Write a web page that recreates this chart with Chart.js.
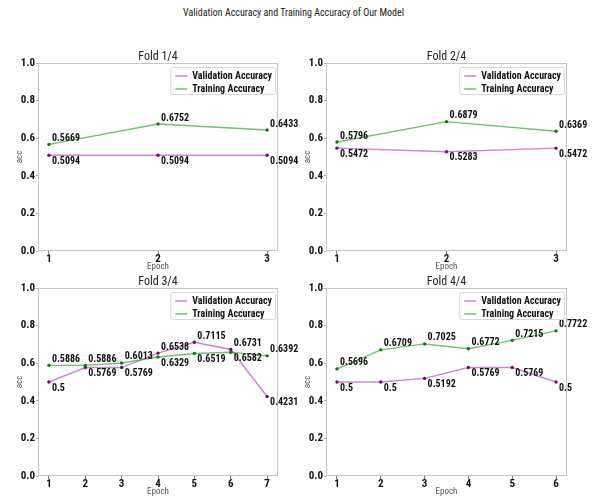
<!DOCTYPE html>
<html>
<head>
<meta charset="utf-8">
<script src="https://cdn.jsdelivr.net/npm/chart.js@4/dist/chart.umd.min.js"></script>
<style>
  body { margin: 0; background: #fff; }
  #page { position: relative; width: 592px; height: 497px; overflow: hidden; }
  #suptitle {
    position: absolute; left: 0; top: 7px; width: 587px; text-align: center;
    font: 10px "Roboto Condensed", "Liberation Sans Narrow", sans-serif; color: #222;
  }
  .cell { position: absolute; }
</style>
</head>
<body>
<div id="page">
  <div id="suptitle">Validation Accuracy and Training Accuracy of Our Model</div>
  <div class="cell" style="left:0;top:40px;width:312px;height:232px"><canvas id="fold1"></canvas></div>
  <div class="cell" style="left:288px;top:40px;width:304px;height:232px"><canvas id="fold2"></canvas></div>
  <div class="cell" style="left:0;top:265px;width:312px;height:232px"><canvas id="fold3"></canvas></div>
  <div class="cell" style="left:288px;top:265px;width:304px;height:232px"><canvas id="fold4"></canvas></div>
</div>
<script>
/* values */
const foldTitles = ["Fold 1/4", "Fold 2/4", "Fold 3/4", "Fold 4/4"];
const seriesNames = ["Validation Accuracy", "Training Accuracy"];

const valFold1   = [0.5094, 0.5094, 0.5094];
const trainFold1 = [0.5669, 0.6752, 0.6433];
const valFold2   = [0.5472, 0.5283, 0.5472];
const trainFold2 = [0.5796, 0.6879, 0.6369];
const valFold3   = [0.5, 0.5769, 0.5769, 0.6538, 0.7115, 0.6731, 0.4231];
const trainFold3 = [0.5886, 0.5886, 0.6013, 0.6329, 0.6519, 0.6582, 0.6392];
const valFold4   = [0.5, 0.5, 0.5192, 0.5769, 0.5769, 0.5];
const trainFold4 = [0.5696, 0.6709, 0.7025, 0.6772, 0.7215, 0.7722];

const yTicks = [0.0, 0.2, 0.4, 0.6, 0.8, 1.0];

const FONT = '"Roboto Condensed", "Liberation Sans Narrow", sans-serif';
const VAL_LINE = "rgba(150, 20, 150, 0.5)";
const VAL_DOT = "#800080";
const TRAIN_LINE = "rgba(20, 150, 20, 0.6)";
const TRAIN_DOT = "#008000";

/* ---------- plugin: frame, subplot title, legend, value labels ---------- */
const decor = {
  id: "decor",
  afterDatasetsDraw(chart, args, opts) {
    const { ctx, chartArea: ca } = chart;
    ctx.save();

    // axes frame
    ctx.strokeStyle = "#c4c4c4";
    ctx.lineWidth = 1;
    ctx.strokeRect(ca.left + 0.5, ca.top + 0.5, ca.width - 1, ca.height - 1);

    // subplot title
    ctx.fillStyle = "#222";
    ctx.font = "12px " + FONT;
    ctx.textAlign = "center";
    ctx.textBaseline = "middle";
    ctx.fillText(opts.title, (ca.left + ca.right) / 2, ca.top - 6);

    // value labels: the higher of the pair above, the lower below
    ctx.font = "bold 10px " + FONT;
    ctx.fillStyle = "#111";
    ctx.textAlign = "left";
    const metaV = chart.getDatasetMeta(1);
    const metaT = chart.getDatasetMeta(0);
    const dv = chart.data.datasets[1].data;
    const dt = chart.data.datasets[0].data;
    dv.forEach((p, i) => {
      const pairs = [[p.y, metaV.data[i]], [dt[i].y, metaT.data[i]]];
      pairs.sort((a, b) => b[0] - a[0]);
      const [hi, lo] = pairs;
      ctx.textBaseline = "alphabetic";
      ctx.fillText(String(hi[0]), hi[1].x + 3, hi[1].y - 3.5);
      ctx.textBaseline = "top";
      ctx.fillText(String(lo[0]), lo[1].x + 3, lo[1].y + 1);
    });

    // legend (upper right)
    ctx.font = "bold 10px " + FONT;
    const tw = Math.max(...seriesNames.map(s => ctx.measureText(s).width));
    const bw = 22 + tw + 3, bh = 27;
    const bx = ca.right - 3 - bw, by = ca.top + 4;
    ctx.fillStyle = "rgba(255,255,255,0.8)";
    ctx.strokeStyle = "#d6d6d6";
    ctx.beginPath();
    ctx.roundRect(bx + 0.5, by + 0.5, bw, bh, 2);
    ctx.fill();
    ctx.stroke();
    const cols = [VAL_LINE, TRAIN_LINE];
    seriesNames.forEach((s, k) => {
      const yy = by + 9 + k * 13;
      ctx.strokeStyle = cols[k];
      ctx.lineWidth = 1.5;
      ctx.beginPath();
      ctx.moveTo(bx + 5, yy);
      ctx.lineTo(bx + 17, yy);
      ctx.stroke();
      ctx.fillStyle = "#111";
      ctx.textBaseline = "middle";
      ctx.fillText(s, bx + 22, yy + 0.5);
    });

    ctx.restore();
  }
};

function drawFold(canvasId, title, valAcc, trainAcc, padRight) {
  const n = valAcc.length;
  const pad = (n - 1) * 0.05;
  const toPts = arr => arr.map((v, i) => ({ x: i + 1, y: v }));

  return new Chart(document.getElementById(canvasId), {
    type: "line",
    data: {
      datasets: [
        {
          label: seriesNames[1],
          data: toPts(trainAcc),
          borderColor: TRAIN_LINE,
          backgroundColor: TRAIN_DOT,
          pointBackgroundColor: TRAIN_DOT,
          pointBorderWidth: 0,
          pointRadius: 1.7,
          borderWidth: 1.4,
          tension: 0,
          order: 0
        },
        {
          label: seriesNames[0],
          data: toPts(valAcc),
          borderColor: VAL_LINE,
          backgroundColor: VAL_DOT,
          pointBackgroundColor: VAL_DOT,
          pointBorderWidth: 0,
          pointRadius: 1.7,
          borderWidth: 1.4,
          tension: 0,
          order: 1
        }
      ]
    },
    options: {
      responsive: true,
      maintainAspectRatio: false,
      animation: false,
      events: [],
      layout: { padding: { left: 0, top: 23, right: padRight, bottom: 0 } },
      plugins: {
        legend: { display: false },
        tooltip: { enabled: false },
        decor: { title }
      },
      scales: {
        x: {
          type: "linear",
          min: 1 - pad,
          max: n + pad,
          afterBuildTicks: s => { s.ticks = valAcc.map((_, i) => ({ value: i + 1 })); },
          afterFit: s => { s.height = 21; },
          grid: { drawOnChartArea: false, drawTicks: true, tickLength: 3, color: "#777" },
          border: { display: false },
          ticks: { padding: -1, color: "#111", font: { family: FONT, size: 11, weight: "bold" } },
          title: {
            display: true, text: "Epoch", color: "#555",
            padding: { top: 0, bottom: 0 },
            font: { family: FONT, size: 9 }
          }
        },
        y: {
          min: 0,
          max: 1,
          afterBuildTicks: s => { s.ticks = yTicks.map(v => ({ value: v })); },
          afterFit: s => { s.width = 38; },
          grid: { drawOnChartArea: false, drawTicks: true, tickLength: 2, color: "#aaa" },
          border: { display: false },
          ticks: {
            padding: 1, color: "#111",
            font: { family: FONT, size: 11, weight: "bold" },
            callback: v => v.toFixed(1)
          },
          title: {
            display: true, text: "acc", color: "#555",
            padding: { top: 14, bottom: 0 },
            font: { family: FONT, size: 9 }
          }
        }
      }
    },
    plugins: [decor]
  });
}

drawFold("fold1", foldTitles[0], valFold1, trainFold1, 34);
drawFold("fold2", foldTitles[1], valFold2, trainFold2, 25);
drawFold("fold3", foldTitles[2], valFold3, trainFold3, 34);
drawFold("fold4", foldTitles[3], valFold4, trainFold4, 25);
</script>
</body>
</html>
